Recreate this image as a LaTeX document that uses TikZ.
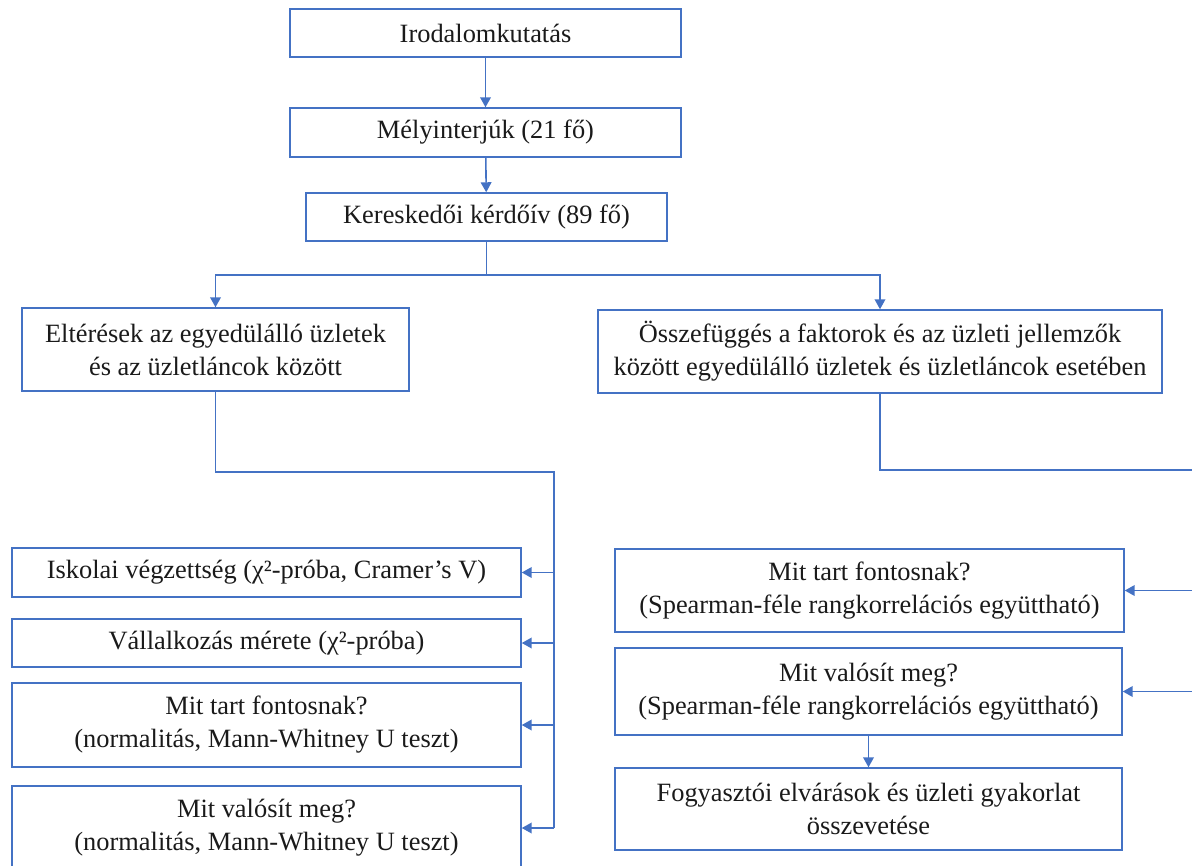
\documentclass[tikz,border=0pt]{standalone}
\usepackage{fontspec}
\setmainfont{Liberation Serif}
\usetikzlibrary{arrows.meta,calc}
\definecolor{lineblue}{HTML}{4472C4}
\definecolor{txt}{HTML}{1A1A1A}
\begin{document}
\begin{tikzpicture}[x=0.75pt,y=-0.75pt,
  box/.style={draw=lineblue, line width=1.1pt, inner sep=0pt, align=center,
    text=txt, font=\fontsize{19.8}{24.75}\selectfont},
  link/.style={draw=lineblue, line width=1.2pt},
  conn/.style={link, -{Triangle[length=7.5pt,width=8pt]}}]
\useasboundingbox (0,0) rectangle (1192,865);
\clip (0,0) rectangle (1192,865);
% top chain
\node[box, minimum width=391*0.75pt, minimum height=48*0.75pt] (n1) at (485.5,33) {Irodalomkutatás};
\node[box, minimum width=391*0.75pt, minimum height=49*0.75pt] (n2) at (485.5,132.5) {Mélyinterjúk (21 fő)};
\node[box, minimum width=361*0.75pt, minimum height=48*0.75pt] (n3) at (486.5,217) {Kereskedői kérdőív (89 fő)};
% second level
\node[box, minimum width=387*0.75pt, minimum height=83*0.75pt] (n4) at (215.5,349.5) {Eltérések az egyedülálló üzletek\\és az üzletláncok között};
\node[box, minimum width=564*0.75pt, minimum height=83*0.75pt] (n5) at (880,351.5) {Összefüggés a faktorok és az üzleti jellemzők\\között egyedülálló üzletek és üzletláncok esetében};
% left column
\node[box, minimum width=509*0.75pt, minimum height=49*0.75pt] (n6) at (266.5,572.5) {Iskolai végzettség (χ²-próba, Cramer’s V)};
\node[box, minimum width=509*0.75pt, minimum height=48*0.75pt] (n7) at (266.5,643) {Vállalkozás mérete (χ²-próba)};
\node[box, minimum width=509*0.75pt, minimum height=84*0.75pt] (n8) at (266.5,725) {Mit tart fontosnak?\\(normalitás, Mann-Whitney U teszt)};
\node[box, minimum width=509*0.75pt, minimum height=84*0.75pt] (n9) at (266.5,828) {Mit valósít meg?\\(normalitás, Mann-Whitney U teszt)};
% right column
\node[box, minimum width=509*0.75pt, minimum height=83*0.75pt] (n10) at (869.5,590.5) {Mit tart fontosnak?\\(Spearman-féle rangkorrelációs együttható)};
\node[box, minimum width=507*0.75pt, minimum height=87*0.75pt] (n11) at (868.5,691.5) {Mit valósít meg?\\(Spearman-féle rangkorrelációs együttható)};
\node[box, minimum width=507*0.75pt, minimum height=82*0.75pt] (n12) at (868.5,809) {Fogyasztói elvárások és üzleti gyakorlat\\összevetése};
% connectors
\draw[conn] (n1) -- (n2);
\draw[conn] (n2) -- (n3);
\draw[conn] (n3.south) -- ++(0,33) -| (n4.north);
\draw[conn] (n3.south) -- ++(0,33) -| (n5.north);
\coordinate (lb) at (554,472);
\draw[link] (n4.south) |- (lb) -- (lb |- n9.east);
\draw[conn] (lb |- n6.east) -- (n6.east);
\draw[conn] (lb |- n7.east) -- (n7.east);
\draw[conn] (lb |- n8.east) -- (n8.east);
\draw[conn] (lb |- n9.east) -- (n9.east);
\coordinate (rb) at (1192,470);
\draw[link] (n5.south) |- (rb);
\draw[conn] (rb |- n10.east) -- (n10.east);
\draw[conn] (rb |- n11.east) -- (n11.east);
\draw[conn] (n11) -- (n12);
\end{tikzpicture}
\end{document}
